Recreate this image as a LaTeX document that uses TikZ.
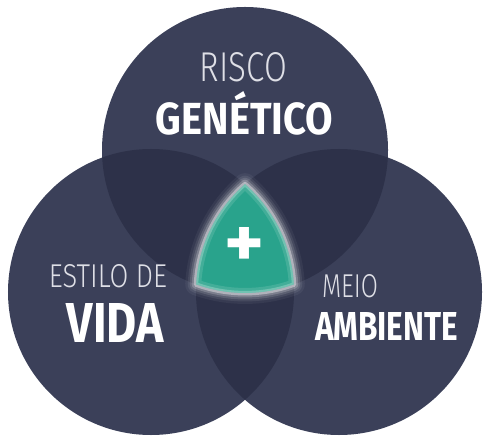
\documentclass[tikz,border=0pt]{standalone}
\usepackage{fontspec}
\setmainfont{Fira Sans}[BoldFont={* Bold}]
\newfontfamily\lightfont{Fira Sans Light}
\usetikzlibrary{positioning}
\definecolor{venncol}{RGB}{59, 64, 89}
\definecolor{lenscol}{RGB}{45, 49, 73}
\definecolor{corecol}{RGB}{41, 163, 140}
\definecolor{labelgrey}{RGB}{222, 223, 230}
\tikzset{
  % the three big discs
  venn/.style={
    circle, fill=venncol, minimum size=286bp, inner sep=0pt, outer sep=0pt
  },
  % pairwise overlaps, a little darker
  lens/.style={fill=lenscol},
  %
  % labels: thin first line, heavy second line
  thin label/.style={inner sep=0pt, text=labelgrey, font=\lightfont},
  bold label/.style={inner sep=0pt, text=white, font=\bfseries},
  %
  % centre piece
  core/.style={fill=corecol},
  core glow/.style={draw=white, line join=round},
}

\begin{document}
\begin{tikzpicture}[x=1bp, y=-1bp]

  \useasboundingbox (0,0) rectangle (492,445);

  %% -- discs -----------------------------------------------------------
  \node[venn] (cGen)  at (245, 150) {};
  \node[venn] (cVida) at (151, 292) {};
  \node[venn] (cAmb)  at (339, 292) {};

  %% -- overlaps --------------------------------------------------------
  \begin{scope}
    \clip (cGen) circle[radius=143];
    \fill[lens] (cVida) circle[radius=143];
    \fill[lens] (cAmb)  circle[radius=143];
  \end{scope}
  \begin{scope}
    \clip (cVida) circle[radius=143];
    \fill[lens] (cAmb) circle[radius=143];
  \end{scope}

  %% -- centre (triple overlap) with glow -------------------------------
  \coordinate (apex) at (245, 184.2);
  \path[save path=\corepath] (apex)
    arc[start angle=-48.9, end angle=-3.05, radius=143]
    arc[start angle=70.05, end angle=109.95, radius=143]
    arc[start angle=183.05, end angle=228.9, radius=143] -- cycle;

  \foreach \w/\o in {22/0.05, 17/0.08, 13/0.12, 9/0.2, 5/0.4}
    \draw[core glow, line width=\w bp, draw opacity=\o, use path=\corepath];
  \fill[core, use path=\corepath];
  \begin{scope}
    \clip[use path=\corepath];
    \draw[core glow, line width=10bp, draw opacity=0.12, use path=\corepath];
    \draw[core glow, line width=4bp, draw opacity=0.25, use path=\corepath];
  \end{scope}

  \node[bold label] (plus) at (245, 247.5) {\resizebox{40bp}{40bp}{+}};

  %% -- labels ----------------------------------------------------------
  \node[thin label] (risco)    at (243.5,  67.5) {\resizebox{87bp}{29bp}{RISCO}};
  \node[bold label] (genetico) at (244.5, 113.5) {\resizebox{177bp}{43bp}{GENÉTICO}};

  \node[thin label] (estilo)   at (108,   276.5) {\resizebox{118bp}{23bp}{ESTILO DE}};
  \node[bold label] (vida)     at (115.5, 322.5) {\resizebox{97bp}{39bp}{VIDA}};

  \node[thin label] (meio)     at (350,   286.5) {\resizebox{56bp}{23bp}{MEIO}};
  \node[bold label] (ambiente) at (386.5, 326)   {\resizebox{143bp}{28bp}{AMBIENTE}};

\end{tikzpicture}
\end{document}
